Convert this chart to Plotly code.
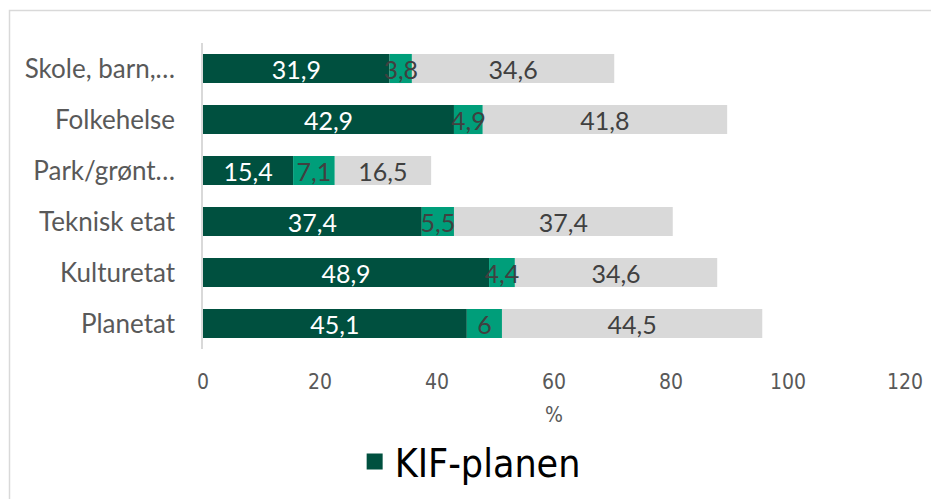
import plotly.graph_objects as go

# Categories (top to bottom) and the three stacked shares, in percent
categories = ["Skole, barn,…", "Folkehelse", "Park/grønt…", "Teknisk etat", "Kulturetat", "Planetat"]
kif_planen = [31.9, 42.9, 15.4, 37.4, 48.9, 45.1]
series_2 = [3.8, 4.9, 7.1, 5.5, 4.4, 6]
series_3 = [34.6, 41.8, 16.5, 37.4, 34.6, 44.5]
x_ticks = [0, 20, 40, 60, 80, 100, 120]

DARK = "#00503F"
MID = "#009E7A"
GREY = "#D9D9D9"
TXT = "#404040"
AXT = "#595959"

def fmt(v):
    return f"{v:g}".replace(".", ",")

label_font = "Lato, Carlito, Calibri, sans-serif"
narrow_font = "DejaVu Sans Condensed, Liberation Sans Narrow, Arial Narrow, Lato, sans-serif"

# stacking offsets for each segment
base_1 = [0] * len(kif_planen)
base_2 = list(kif_planen)
base_3 = [a + b for a, b in zip(kif_planen, series_2)]

fig = go.Figure()
# the narrow middle segment is drawn last so its labels can overflow on top
for name, vals, base, color, tcol in [
    ("KIF-planen", kif_planen, base_1, DARK, "white"),
    ("Serie 3", series_3, base_3, GREY, TXT),
    ("Serie 2", series_2, base_2, MID, TXT),
]:
    fig.add_trace(go.Bar(
        y=categories, x=vals, base=base, name=name, orientation="h",
        marker=dict(color=color, line=dict(width=0)),
        text=[fmt(v) for v in vals],
        textposition="inside", textangle=0,
        insidetextanchor="middle", constraintext="none",
        textfont=dict(family=label_font, size=25, color=tcol),
        showlegend=False, cliponaxis=False, legendgroup=name,
    ))

# legend entry for the first series, with a square swatch
fig.add_trace(go.Scatter(
    x=[None], y=[None], mode="markers", name="KIF-planen", legendgroup="KIF-planen",
    marker=dict(symbol="square", size=22, color=DARK), showlegend=True,
))

fig.update_layout(
    barmode="overlay",
    bargap=0.43,
    width=931, height=499,
    margin=dict(l=203, r=26, t=43, b=150, autoexpand=False),
    paper_bgcolor="white", plot_bgcolor="white",
    xaxis=dict(
        range=[0, 120], tickvals=x_ticks, showgrid=False, zeroline=False,
        showline=False, ticks="", ticklabelstandoff=18,
        tickfont=dict(family=narrow_font, size=21, color=AXT),
        title=dict(text="%", font=dict(family=narrow_font, size=21, color=AXT), standoff=14),
    ),
    yaxis=dict(
        autorange="reversed", showgrid=False, zeroline=False,
        showline=True, linecolor=GREY, linewidth=1.5, ticks="",
        ticklabelstandoff=21,
        tickfont=dict(family=label_font, size=26, color=AXT),
    ),
    legend=dict(
        orientation="h", xref="container", yref="container",
        x=0.505, xanchor="center", y=0.075, yanchor="middle",
        itemsizing="trace",
        font=dict(family=narrow_font, size=39, color="black"),
    ),
    shapes=[dict(
        type="rect", xref="paper", yref="paper",
        x0=(9.5 - 203) / 702, x1=1.2, y0=-0.8, y1=(349 - 10.5) / 306,
        line=dict(color=GREY, width=1.5), fillcolor="rgba(0,0,0,0)", layer="below",
    )],
)

fig.write_html("out.html")
